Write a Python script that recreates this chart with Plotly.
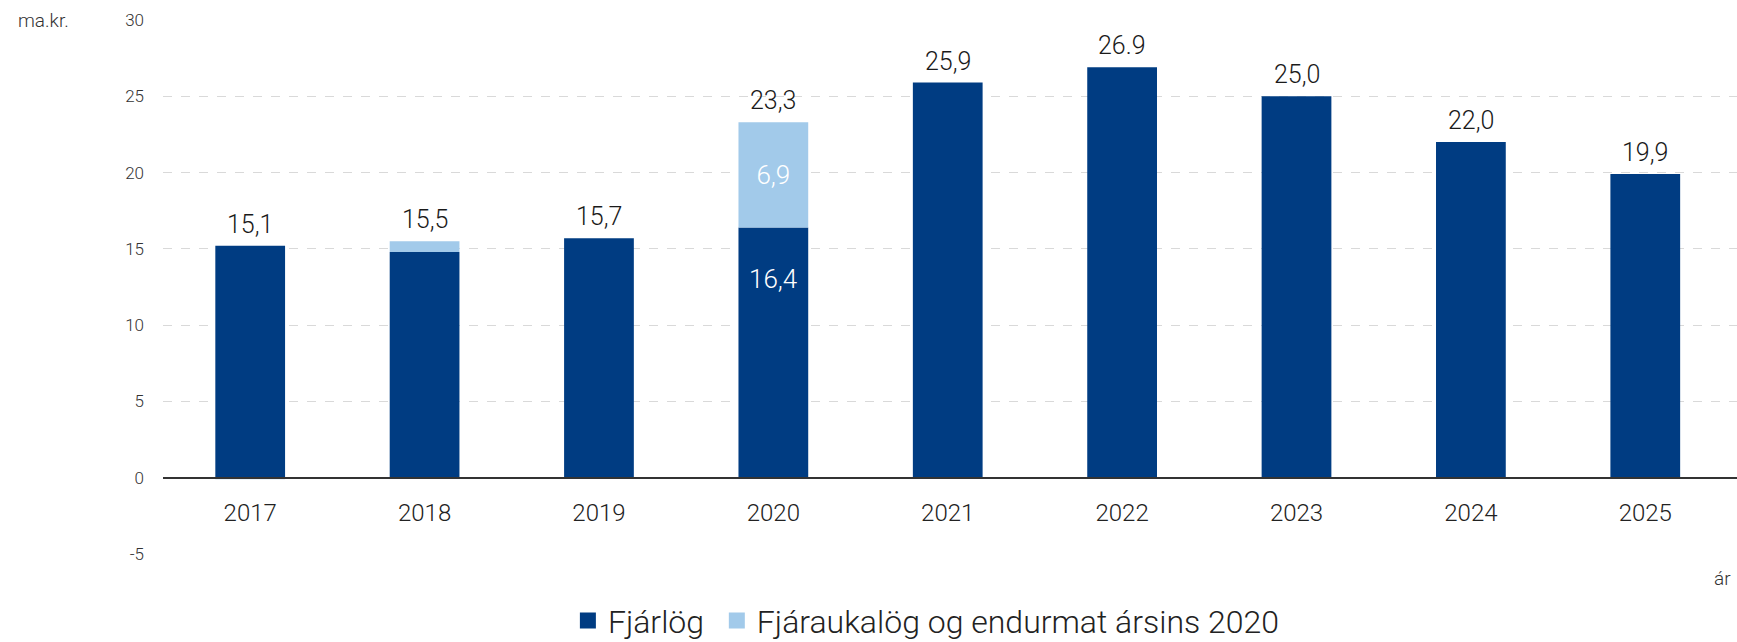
import plotly.graph_objects as go

years = ["2017", "2018", "2019", "2020", "2021", "2022", "2023", "2024", "2025"]
fjarlog = [15.2, 14.8, 15.7, 16.4, 25.9, 26.9, 25.0, 22.0, 19.9]
fjaraukalog = [-0.1, 0.7, 0.0, 6.9, 0.0, 0.0, 0.0, 0.0, 0.0]
total_labels = ["15,1", "15,5", "15,7", "23,3", "25,9", "26.9", "25,0", "22,0", "19,9"]
inner_fj = ["", "", "", "16,4", "", "", "", "", ""]
inner_fa = ["", "", "", "6,9", "", "", "", "", ""]
y_ticks = [-5, 0, 5, 10, 15, 20, 25, 30]
y_tick_text = ["-5", "0", "5", "10", "15", "20", "25", "30"]
series_names = ["Fjárlög", "Fjáraukalög og endurmat ársins 2020"]

DARK = "#003C82"
LIGHT = "#A2CAEA"
FONT = "Roboto"
W = 300

y_min, y_max = -5, 30
tops = [a + max(b, 0) for a, b in zip(fjarlog, fjaraukalog)]

fig = go.Figure()
fig.add_trace(go.Bar(
    x=years, y=fjarlog, name=series_names[0], marker=dict(color=DARK, line=dict(width=0)),
    hoverinfo="skip", showlegend=False,
))
fig.add_trace(go.Bar(
    x=years, y=fjaraukalog, name=series_names[1],
    marker=dict(color=LIGHT, line=dict(width=0)),
    text=inner_fa, textposition="inside", insidetextanchor="middle",
    textfont=dict(color="white", size=26, family=FONT, weight=W), hoverinfo="skip",
    showlegend=False,
))
# legend entries (larger square swatches)
for nm, col in [(series_names[0] + "\u00a0", DARK), (series_names[1], LIGHT)]:
    fig.add_trace(go.Scatter(
        x=[None], y=[None], mode="markers", name=nm,
        marker=dict(symbol="square", size=16, color=col), hoverinfo="skip",
    ))

annotations = []
for i, (top, lab) in enumerate(zip(tops, total_labels)):
    annotations.append(dict(
        x=i, y=top, xref="x", yref="y", text=lab, showarrow=False,
        xanchor="center", yanchor="bottom", yshift=5,
        font=dict(size=25, color="#1a1a1a", family=FONT, weight=W),
    ))
for i, (val, lab) in enumerate(zip(fjarlog, inner_fj)):
    if lab:
        annotations.append(dict(
            x=i, y=val, xref="x", yref="y", text=lab, showarrow=False,
            xanchor="center", yanchor="middle", yshift=-51,
            font=dict(size=26, color="white", family=FONT, weight=W),
        ))
annotations += [
    dict(text="ma.kr.", xref="paper", yref="paper", x=-0.0762, y=1.0,
         xanchor="center", yanchor="middle", showarrow=False,
         font=dict(size=19, color="#333333", family=FONT, weight=W)),
    dict(text="ár", xref="paper", yref="paper", x=0.991, y=-0.045,
         xanchor="center", yanchor="middle", showarrow=False,
         font=dict(size=19, color="#333333", family=FONT, weight=W)),
]

zero_pos = (0 - y_min) / (y_max - y_min)

fig.update_layout(
    width=1737, height=642,
    margin=dict(l=163, r=0, t=20, b=88, autoexpand=False),
    barmode="relative", bargap=0.60,
    plot_bgcolor="white", paper_bgcolor="white",
    font=dict(family=FONT, color="#333333", weight=W),
    xaxis=dict(
        type="category", anchor="free", position=zero_pos,
        range=[-0.5, 8.526],
        showline=True, linecolor="#333333", linewidth=1.5,
        showgrid=False, ticks="", tickfont=dict(size=24, color="#222222", weight=W),
        ticklabelstandoff=14,
    ),
    yaxis=dict(
        range=[y_min, y_max], tickvals=y_ticks, ticktext=y_tick_text, zeroline=False,
        showgrid=True, gridcolor="#d9d9d9", griddash="dash", gridwidth=1,
        tickfont=dict(size=17, color="#333333", weight=W), ticklabelstandoff=18,
    ),
    legend=dict(
        orientation="h", x=0.485, xanchor="center", y=-0.125, yanchor="middle",
        font=dict(size=32, color="#222222", family=FONT, weight=W),
        traceorder="normal", itemsizing="trace",
    ),
    showlegend=True,
    annotations=annotations,
)

fig.write_html("out.html", post_script="document.body.style.margin='0';",
               config={"displayModeBar": False})
